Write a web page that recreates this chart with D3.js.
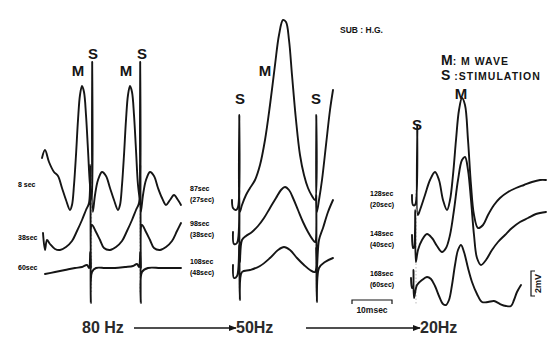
<!DOCTYPE html>
<html><head><meta charset="utf-8">
<script src="https://cdn.jsdelivr.net/npm/d3@7"></script>
<style>
html,body{margin:0;padding:0;background:#fff;}
svg{display:block;font-family:"Liberation Sans",Arial,sans-serif;}
</style></head>
<body><svg id="c" width="554" height="339"></svg>
<script>
// ---- data: traces as [time (ms), amplitude (mV)] ----
const hz80_8s = [[0.5,2.16],[1.25,2.8],[2.25,1.84],[3.5,1.04],[4.5,0.72],[5.5,-0.24],[6.5,-1.2],[7.5,-2.0],[8,-1.6],[8.5,0],[9,2.4],[9.5,5.2],[10,7.2],[10.5,7.92],[11,7.44],[11.5,5.6],[12,2.8],[12.5,0],[13,-1.2],[13.05,9.84],[13.2,-2.16],[13.75,-0.8],[14.5,0.4],[15.5,1.04],[16.5,0.72],[17.5,-0.24],[18.5,-1.2],[19.5,-2.0],[20,-1.6],[20.5,0],[21,2.4],[21.5,5.2],[22,7.2],[22.5,7.92],[23,7.44],[23.5,5.6],[24,2.8],[24.5,0],[25,-1.2],[25.05,9.84],[25.2,-2.16],[25.75,-0.8],[26.5,0.4],[27.5,1.04],[28.5,0.72],[29.5,-0.24],[30.5,-1.04],[31.5,-1.6],[32.5,-1.2],[33.5,-0.8],[34.5,-1.2],[35.25,-1.6]];
const hz80_38s = [[0.75,0.4],[1.25,-0.96],[1.75,-0.16],[2.5,-0.48],[3.75,-0.88],[5,-0.96],[6.5,-0.72],[8,-0.24],[9.25,0.56],[10.5,1.44],[11.5,2.24],[12.25,2.8],[12.575,5.84],[12.7,-2.4],[13,1.04],[14,0.48],[15,-0.16],[16,-0.8],[17.5,-0.96],[19,-0.72],[20.5,-0.24],[21.75,0.56],[23,1.44],[24,2.24],[24.75,2.8],[25.075,5.84],[25.2,-2.4],[25.5,1.04],[26.5,0.48],[27.5,-0.16],[28.5,-0.8],[30,-0.96],[31.5,-0.72],[33,-0.24],[34.25,0.56],[35.25,1.2]];
const hz80_60s = [[1.25,-0.48],[3.75,-0.32],[6.25,-0.16],[8.75,0],[10.5,0.08],[11.75,0.24],[12.25,0],[12.575,1.28],[12.7,-2.8],[13,-0.32],[14,0],[16.25,0],[18.75,0],[21.25,0.08],[23.25,0.16],[24.25,0.32],[24.75,0.08],[25.075,1.28],[25.2,-2.8],[25.5,-0.32],[27,0],[30,0],[32.5,0],[35.25,0]];

const hz50_87s = [[0.5,-0.4],[0.75,-1.04],[1.5,-1.2],[2,-0.96],[2.325,6.4],[2.45,-1.36],[3,-0.8],[4,0],[5,0.56],[6.25,1.2],[7.5,2.4],[8.75,4.4],[10,7.2],[11.25,10.4],[12.25,12.8],[13.25,14.0],[14,13.84],[14.75,12.4],[15.5,9.6],[16.5,6.0],[17.5,3.2],[18.5,1.6],[19.5,0.56],[20.5,-0.08],[21.25,-0.4],[21.575,6.4],[21.7,-1.36],[22.25,-0.4],[23,1.2],[24,4.0],[25,6.8],[25.75,8.4]];
const hz50_98s = [[0.75,-0.16],[1,-1.12],[1.75,-1.04],[2.325,3.2],[2.45,-2.56],[3,-0.8],[4,-0.48],[5.5,-0.16],[7,0.32],[8.5,0.96],[10,1.76],[11.5,2.56],[12.75,3.2],[13.75,3.44],[14.75,3.2],[15.75,2.56],[17,1.6],[18.25,0.64],[19.5,-0.16],[20.75,-0.8],[21.25,-0.96],[21.575,2.8],[21.7,-3.2],[22.25,-0.8],[23.25,0.16],[24.5,1.44],[25.75,2.4]];
const hz50_108s = [[0.75,0.24],[1,-0.8],[1.75,-0.64],[2.325,1.84],[2.45,-2.56],[3,-0.32],[5,-0.16],[7.5,0.16],[10,0.8],[12,1.44],[13.5,1.68],[15,1.44],[16.75,0.8],[18.5,0.24],[20,-0.16],[21.25,-0.32],[21.575,1.6],[21.7,-2.72],[22.25,0],[23.75,0.48],[25.75,0.8]];

const hz20_128s = [[0.5,0.4],[0.75,-0.4],[1.25,-0.4],[1.825,6.0],[1.95,-1.2],[2.5,-0.8],[3.75,0.4],[5,1.6],[6.25,2.24],[7.25,1.6],[8.25,0],[9.25,-0.8],[10,0],[10.75,2.0],[11.5,4.8],[12.25,7.2],[13,8.16],[13.75,7.6],[14.5,4.8],[15.25,1.2],[16,-1.2],[17,-2.24],[18.25,-2.0],[19.5,-1.2],[21,-0.4],[22.5,0.16],[24.5,0.64],[26.5,0.96],[28.5,1.2],[30.5,1.44],[32.5,1.6],[34,1.6]];
const hz20_148s = [[0.5,0.4],[0.75,-0.64],[1,-0.56],[1.325,2.4],[1.45,-1.76],[2,-0.8],[3,0],[4.25,0.48],[5.5,0.16],[6.75,-0.48],[8,-0.96],[9,-0.64],[10,0.4],[11,2.4],[12,4.8],[13,6.4],[13.75,6.64],[14.5,5.6],[15.25,3.2],[16,0.4],[16.75,-1.44],[17.75,-2.0],[19,-1.6],[20.5,-0.8],[22,-0.16],[23.75,0.4],[25.5,0.96],[27.5,1.44],[29.5,1.76],[31.5,2.08],[34,2.24]];
const hz20_168s = [[0.25,0.16],[0.5,-0.64],[0.75,-0.56],[0.875,0.8],[1,-1.44],[1.75,-0.4],[3,0],[4.25,0.24],[5.25,0.08],[6.25,-0.48],[7.25,-1.28],[8.25,-1.92],[9,-2.0],[9.75,-1.6],[10.5,-0.4],[11.25,1.2],[12,2.4],[12.75,2.8],[13.5,2.24],[14.5,0.96],[15.5,-0.16],[16.75,-1.12],[18,-1.76],[19.5,-1.76],[21,-1.68],[22.5,-1.92],[24,-2.08],[25.25,-2.08],[26,-1.6],[26.75,-0.96],[27.75,-0.4]];

// stimulation times (ms) per panel, and labels
const stim80 = [12.9, 25.0];
const stim50 = [2.35, 21.6];
const stim20 = [1.5];
const labels80 = [["8 sec"],["38sec"],["60sec"]];
const labels50 = [["87sec","(27sec)"],["98sec","(38sec)"],["108sec","(48sec)"]];
const labels20 = [["128sec","(20sec)"],["148sec","(40sec)"],["168sec","(60sec)"]];
const freqLabels = ["80 Hz","50Hz","20Hz"];
const scaleTime = 10;   // ms
const scaleAmp = 2;     // mV

// ---- scales ----
const x = d3.scaleLinear().domain([0, 10]).range([0, 40]);
const y = d3.scaleLinear().domain([0, 2]).range([0, -25]);
const line = d3.line().x(d => x(d[0])).y(d => y(d[1])).curve(d3.curveCatmullRom.alpha(0.5));

const svg = d3.select("#c");
const ink = "#151515";

const panels = [
  {x0: 40, bases: [185, 238, 268], traces: [hz80_8s, hz80_38s, hz80_60s], labels: labels80, stim: stim80, lx: 18},
  {x0: 230, bases: [195, 230, 268], traces: [hz50_87s, hz50_98s, hz50_108s], labels: labels50, stim: stim50, lx: 190},
  {x0: 410, bases: [200, 240, 280], traces: [hz20_128s, hz20_148s, hz20_168s], labels: labels20, stim: stim20, lx: 370}
];

panels.forEach(p => {
  const g = svg.append("g");
  p.stim.forEach(s => {
    g.append("line").attr("x1", p.x0 + x(s)).attr("x2", p.x0 + x(s))
      .attr("y1", p.bases[0] - 10).attr("y2", p.bases[2] + 25)
      .attr("stroke", "#aaa").attr("stroke-width", 0.8).attr("stroke-dasharray", "1.5,2");
  });
  p.traces.forEach((tr, i) => {
    g.append("path").datum(tr)
      .attr("transform", `translate(${p.x0},${p.bases[i]})`)
      .attr("d", line).attr("fill", "none").attr("stroke", ink)
      .attr("stroke-width", 1.9).attr("stroke-linejoin", "round").attr("stroke-linecap", "round");
    const lab = p.labels[i];
    const t = g.append("text").attr("x", p.lx).attr("y", p.bases[i] + (lab.length > 1 ? -4 : 2))
      .attr("font-size", 7).attr("font-weight", "bold").attr("fill", "#000");
    lab.forEach((s, k) => t.append("tspan").attr("x", p.lx).attr("dy", k ? 11 : 0).text(s));
  });
});

// M / S markers
const big = (tx, ty, s, fs) => svg.append("text").attr("x", tx).attr("y", ty).attr("font-size", fs || 15)
  .attr("font-weight", "bold").attr("fill", ink).attr("text-anchor", "middle").text(s);
big(78, 76, "M"); big(93, 59, "S");
big(126, 76, "M"); big(142, 59, "S");
big(240, 104, "S"); big(265, 76, "M"); big(316, 104, "S");
big(417, 130, "S"); big(461, 99, "M");

// legend
svg.append("text").attr("x", 340).attr("y", 33).attr("font-size", 8.5).attr("font-weight", "bold").attr("fill", ink).text("SUB : H.G.");
const l1 = svg.append("text").attr("x", 441).attr("y", 65).attr("fill", ink).attr("font-weight", "bold");
l1.append("tspan").attr("font-size", 14).text("M");
l1.append("tspan").attr("font-size", 10.5).attr("letter-spacing", 1).text(": M WAVE");
const l2 = svg.append("text").attr("x", 441).attr("y", 80).attr("fill", ink).attr("font-weight", "bold");
l2.append("tspan").attr("font-size", 14).text("S");
l2.append("tspan").attr("font-size", 10.5).attr("letter-spacing", 1).text(" :STIMULATION");

// frequency progression
const fy = 333;
svg.append("defs").append("marker").attr("id", "ah").attr("viewBox", "0 0 10 10").attr("refX", 9).attr("refY", 5)
  .attr("markerWidth", 5).attr("markerHeight", 5).attr("orient", "auto")
  .append("path").attr("d", "M0,1L10,5L0,9z").attr("fill", ink);
const fpos = [82, 236, 420];
freqLabels.forEach((s, i) => svg.append("text").attr("x", fpos[i]).attr("y", fy).attr("font-size", 16)
  .attr("font-weight", "bold").attr("fill", "#2a2a2a").text(s));
[[134, 236], [306, 420]].forEach(a => svg.append("line").attr("x1", a[0]).attr("x2", a[1])
  .attr("y1", fy - 5).attr("y2", fy - 5).attr("stroke", ink).attr("stroke-width", 1.6).attr("marker-end", "url(#ah)"));

// scale bars
const sb = svg.append("g").attr("transform", "translate(352,300)");
sb.append("path").attr("d", `M0,4V0H${x(scaleTime)}V4`).attr("fill", "none").attr("stroke", ink).attr("stroke-width", 1.2);
sb.append("text").attr("x", x(scaleTime) / 2).attr("y", 13).attr("text-anchor", "middle").attr("font-size", 8.5).attr("font-weight", "bold").attr("fill", ink).text(scaleTime + "msec");
const ab = svg.append("g").attr("transform", "translate(531,296)");
ab.append("path").attr("d", `M4,0H0V${y(scaleAmp)}H4`).attr("fill", "none").attr("stroke", ink).attr("stroke-width", 1.2);
ab.append("text").attr("transform", `translate(10,${y(scaleAmp) / 2}) rotate(-90)`).attr("text-anchor", "middle")
  .attr("font-size", 9).attr("font-weight", "bold").attr("fill", ink).text(scaleAmp + "mV");
</script></body></html>
